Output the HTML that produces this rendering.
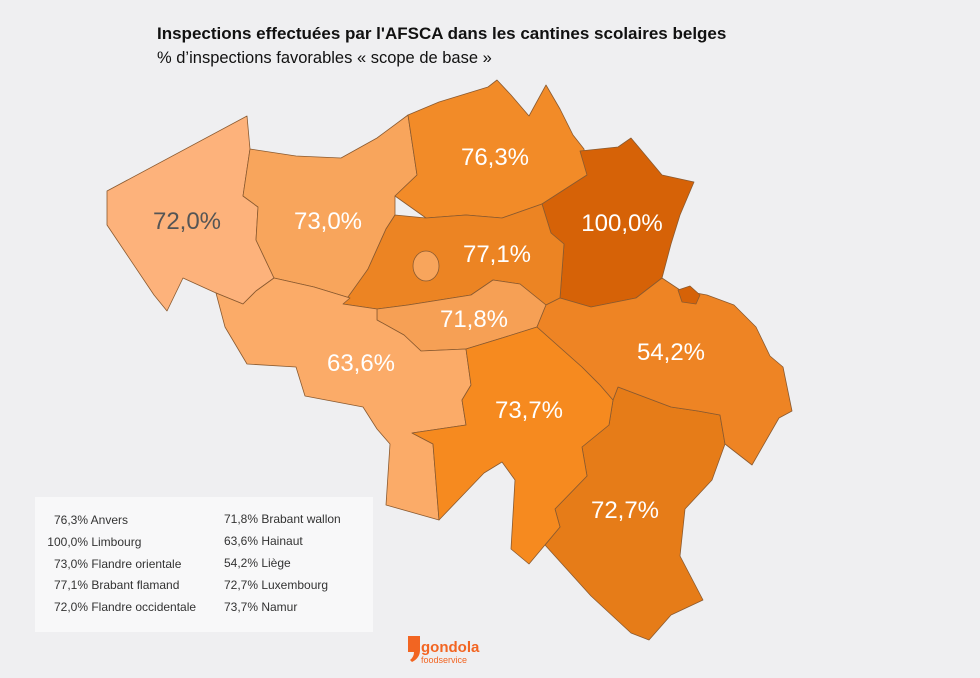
<!DOCTYPE html>
<html><head><meta charset="utf-8"><style>
body{margin:0;width:980px;height:678px;background:#efeff1;overflow:hidden;font-family:"Liberation Sans",sans-serif;position:relative}
.t{position:absolute;left:157px;top:24px;font-size:17px;font-weight:bold;color:#111}
.s{position:absolute;left:157px;top:49px;font-size:16.5px;color:#111}
svg{position:absolute;left:0;top:0}
.lg{position:absolute;left:35px;top:497px;width:338px;height:135px;background:#f8f8f9}
.r{position:absolute;font-size:12px;color:#333;white-space:nowrap}
.v{display:inline-block;text-align:right}
</style></head><body>
<div class="t">Inspections effectuées par l'AFSCA dans les cantines scolaires belges</div>
<div class="s">% d’inspections favorables « scope de base »</div>
<svg width="980" height="678">
<g stroke="#8a5a30" stroke-width="0.8" stroke-linejoin="round">
<polygon fill="#fdb27b" points="107,191 247,116 250,149 243,196 258,207 256,240 274,278 256,291 243,304 216,293 183,278 167,311 154,295 107,225"/>
<polygon fill="#f8a55c" points="250,149 296,156 341,158 377,138 408,115 417,175 395,196 395,215 386,229 368,269 350,298 314,287 274,278 256,240 258,207 243,196"/>
<polygon fill="#f28b28" points="408,115 439,102 488,87 497,80 511,95 529,116 546,85 560,109 573,135 584,149 587,175 542,204 502,218 466,215 426,218 395,196 417,175"/>
<polygon fill="#d66207" points="580,151 618,147 631,138 662,175 694,182 680,215 671,244 662,278 636,298 591,307 560,298 564,244 551,233 542,204 587,175"/>
<polygon fill="#ec8423" points="395,215 426,218 466,215 502,218 542,204 551,233 564,244 560,298 546,305 520,284 493,280 471,295 408,305 377,309 343,304 368,269 386,229"/>
<ellipse fill="#f8a55c" cx="426" cy="266" rx="13" ry="15"/>
<polygon fill="#f6a055" points="377,309 408,305 471,295 493,280 520,284 546,305 537,327 502,338 466,349 421,351 404,335 377,320"/>
<polygon fill="#fbab68" points="216,293 243,304 256,291 274,278 314,287 350,298 343,304 377,309 377,320 404,335 421,351 466,349 471,385 462,400 466,425 412,433 433,444 439,520 386,505 390,444 377,429 363,407 305,396 296,367 247,364 225,327"/>
<polygon fill="#e67c18" points="613,400 618,387 671,407 698,411 720,415 725,444 712,480 685,509 680,556 703,600 671,615 649,640 631,633 591,596 545,545 560,527 555,509 587,476 582,447 609,425"/>
<polygon fill="#f68a1f" points="466,349 502,338 537,327 546,335 582,367 600,385 613,400 609,425 582,447 587,476 555,509 560,527 529,564 511,549 515,480 502,462 484,473 439,520 433,444 412,433 466,425 462,400 471,385"/>
<polygon fill="#ee8424" points="546,305 560,298 591,307 636,298 662,278 680,290 707,295 734,305 756,327 770,356 783,367 792,411 779,418 752,465 734,451 725,444 720,415 698,411 671,407 618,387 613,400 600,385 582,367 546,335 537,327"/>
<polygon fill="#d66207" points="678,290 690,286 700,295 696,304 682,302"/>
</g>
<g font-size="24" font-family="Liberation Sans, sans-serif" text-anchor="middle" fill="#fff">
<text x="187" y="229" fill="#555">72,0%</text>
<text x="328" y="229">73,0%</text>
<text x="495" y="165">76,3%</text>
<text x="622" y="231">100,0%</text>
<text x="497" y="262">77,1%</text>
<text x="474" y="327">71,8%</text>
<text x="361" y="371">63,6%</text>
<text x="671" y="360">54,2%</text>
<text x="529" y="418">73,7%</text>
<text x="625" y="518">72,7%</text>
</g>
<path d="M408,636 h12 v14 q0,8 -8,12 l-2,-2 q4,-3 4,-8 h-6 z" fill="#f26522"/>
<text x="421" y="652" font-size="15" font-weight="bold" fill="#f26522">gondola</text>
<text x="421" y="663" font-size="9" fill="#f26522">foodservice</text>
</svg>
<div class="lg"></div>
<div class="r" style="left:40px;top:513px"><span class="v" style="width:48px">76,3%</span> Anvers</div>
<div class="r" style="left:40px;top:535px"><span class="v" style="width:48px">100,0%</span> Limbourg</div>
<div class="r" style="left:40px;top:557px"><span class="v" style="width:48px">73,0%</span> Flandre orientale</div>
<div class="r" style="left:40px;top:578px"><span class="v" style="width:48px">77,1%</span> Brabant flamand</div>
<div class="r" style="left:40px;top:600px"><span class="v" style="width:48px">72,0%</span> Flandre occidentale</div>
<div class="r" style="left:210px;top:512px"><span class="v" style="width:48px">71,8%</span> Brabant wallon</div>
<div class="r" style="left:210px;top:534px"><span class="v" style="width:48px">63,6%</span> Hainaut</div>
<div class="r" style="left:210px;top:556px"><span class="v" style="width:48px">54,2%</span> Liège</div>
<div class="r" style="left:210px;top:578px"><span class="v" style="width:48px">72,7%</span> Luxembourg</div>
<div class="r" style="left:210px;top:600px"><span class="v" style="width:48px">73,7%</span> Namur</div>
</body></html>
